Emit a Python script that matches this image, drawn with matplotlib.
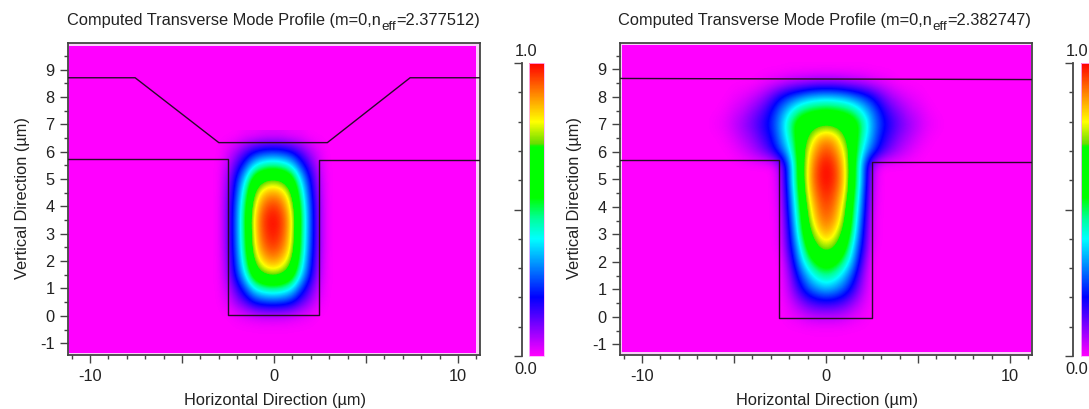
import matplotlib
matplotlib.use('Agg')
import matplotlib.pyplot as plt
from matplotlib.colors import LinearSegmentedColormap
from matplotlib.cm import ScalarMappable
import numpy as np

W, H = 1089, 409
TXT = '#222222'
FRAME = '#444444'
FS = 11.8

plt.rcParams['font.family'] = ['Liberation Sans', 'DejaVu Sans']
plt.rcParams['axes.unicode_minus'] = False

title_head = 'Computed Transverse Mode Profile (m=0,n'
title_sub = 'eff'
title_values = ['=2.377512)', '=2.382747)']
xlabel = 'Horizontal Direction (µm)'
ylabel = 'Vertical Direction (µm)'

# waveguide outlines, um
left_top_x = [-11.2, -7.55, -3.0, 2.9, 7.4, 11.2]
left_top_y = [8.7, 8.7, 6.33, 6.33, 8.7, 8.7]
left_rib_x = [-11.2, -2.5, -2.5, 2.45, 2.45, 11.2]
left_rib_y = [5.72, 5.72, 0.02, 0.02, 5.68, 5.68]
right_top_x = [-11.2, 11.2]
right_top_y = [8.67, 8.63]
right_rib_x = [-11.2, -2.55, -2.55, 2.48, 2.48, 11.2]
right_rib_y = [5.70, 5.70, -0.03, -0.03, 5.62, 5.62]

# half profile, % of peak. columns x = 0, 0.5, ... rows y from top to bottom
left_half = [
    [2, 2, 1, 1, 0, 0, 0],
    [22, 21, 18, 12, 6, 2, 0],
    [46, 44, 38, 24, 13, 4, 0],
    [71, 68, 59, 38, 20, 6, 0],
    [87, 84, 72, 46, 24, 7, 0],
    [96, 92, 79, 51, 27, 8, 0],
    [100, 96, 83, 53, 28, 8, 0],
    [99, 95, 82, 52, 28, 8, 0],
    [96, 92, 80, 51, 27, 8, 0],
    [89, 85, 74, 47, 25, 7, 0],
    [76, 73, 63, 40, 22, 6, 0],
    [49, 47, 41, 26, 14, 4, 0],
    [26, 25, 22, 14, 8, 2, 0],
    [4, 4, 3, 2, 1, 0, 0],
    [0, 0, 0, 0, 0, 0, 0],
]
right_half = [
    [0, 0, 0, 0, 0, 0, 0, 0, 0, 0, 0, 0, 0, 0, 0],
    [8, 8, 7, 6, 5, 3, 2, 1, 0, 0, 0, 0, 0, 0, 0],
    [35, 34, 32, 28, 24, 19, 12, 7, 4, 2, 1, 0, 0, 0, 0],
    [55, 54, 52, 47, 38, 29, 20, 13, 9, 5, 3, 1, 0, 0, 0],
    [70, 68, 64, 60, 48, 33, 23, 17, 12, 8, 5, 2, 1, 0, 0],
    [88, 84, 72, 60, 44, 31, 20, 14, 9, 6, 3, 1, 0, 0, 0],
    [95, 90, 79, 60, 38, 26, 16, 10, 6, 3, 1, 0, 0, 0, 0],
    [100, 95, 82, 58, 29, 7, 0, 0, 0, 0, 0, 0, 0, 0, 0],
    [100, 96, 83, 57, 30, 5, 0, 0, 0, 0, 0, 0, 0, 0, 0],
    [98, 93, 81, 54, 27, 4, 0, 0, 0, 0, 0, 0, 0, 0, 0],
    [95, 90, 76, 50, 25, 3, 0, 0, 0, 0, 0, 0, 0, 0, 0],
    [92, 87, 72, 47, 22, 2, 0, 0, 0, 0, 0, 0, 0, 0, 0],
    [87, 80, 66, 43, 19, 2, 0, 0, 0, 0, 0, 0, 0, 0, 0],
    [76, 71, 58, 36, 17, 1, 0, 0, 0, 0, 0, 0, 0, 0, 0],
    [62, 58, 47, 31, 12, 0, 0, 0, 0, 0, 0, 0, 0, 0, 0],
    [48, 44, 35, 23, 8, 0, 0, 0, 0, 0, 0, 0, 0, 0, 0],
    [35, 32, 26, 16, 6, 0, 0, 0, 0, 0, 0, 0, 0, 0, 0],
    [17, 16, 13, 8, 3, 0, 0, 0, 0, 0, 0, 0, 0, 0, 0],
    [5, 5, 4, 2, 1, 0, 0, 0, 0, 0, 0, 0, 0, 0, 0],
    [0, 0, 0, 0, 0, 0, 0, 0, 0, 0, 0, 0, 0, 0, 0],
]

# colour stops
cm_pos = [0.0, 0.2, 0.4, 0.47, 0.54, 0.715, 0.725, 0.8, 0.9, 1.0]
cm_col = ['#ff00ff', '#0000ff', '#00ffff', '#00ff99', '#00ff00', '#00ff00',
          '#66dd00', '#ffff00', '#ff8000', '#ff0000']
mode_cmap = LinearSegmentedColormap.from_list('mode', list(zip(cm_pos, cm_col)), N=512)


def px_axes(fig, x0, y0, x1, y1):
    # pixel box with y measured from the top of the picture
    return fig.add_axes([x0 / W, 1 - y1 / H, (x1 - x0) / W, (y1 - y0) / H])


def mirrored(half):
    half = np.array(half, dtype=float) / 100.0
    return np.hstack([half[:, :0:-1], half])


def mode_panel(fig, box, xlim, ylim, domain, half, half_x, y_top, y_bot, x0, outlines):
    ax = px_axes(fig, *box)
    ax.set_facecolor('#f8d0f8')
    ax.imshow([[0.0]], extent=domain, cmap=mode_cmap, vmin=0, vmax=1, aspect='auto', zorder=1)
    ax.imshow(mirrored(half), extent=[x0 - half_x, x0 + half_x, y_bot, y_top], cmap=mode_cmap,
              vmin=0, vmax=1, aspect='auto', interpolation='bicubic',
              interpolation_stage='data', zorder=2)
    for lx, ly in outlines:
        ax.plot(lx, ly, color='#2a0a2a', lw=1.0, zorder=3)
    ax.set_xlim(xlim)
    ax.set_ylim(ylim)
    ax.set_xticks([-10, -5, 0, 5, 10])
    ax.set_xticklabels(['-10', '', '0', '', '10'])
    ax.set_xticks(np.arange(-11, 12), minor=True)
    ax.set_yticks(np.arange(-1, 10))
    ax.set_yticks(np.arange(-1, 10, 0.5), minor=True)
    ax.tick_params(which='major', length=5.8, width=1.0, color=FRAME, labelcolor=TXT,
                   labelsize=FS, pad=4.0)
    ax.tick_params(which='minor', length=3, width=1.0, color=FRAME)
    for s in ax.spines.values():
        s.set_color(FRAME)
        s.set_linewidth(1.3)
    return ax


def scale_bar(fig, axis_x, bar_x0, bar_x1, y0, y1):
    sm = ScalarMappable(cmap=mode_cmap)
    sm.set_clim(0, 1)
    cax = px_axes(fig, bar_x0, y0, bar_x1, y1)
    cb = fig.colorbar(sm, cax=cax)
    cb.set_ticks([])
    cb.outline.set_edgecolor('#ffb0ff')
    cb.outline.set_linewidth(0.6)
    tick_ax = px_axes(fig, axis_x, y0, axis_x + 1, y1)
    tick_ax.patch.set_visible(False)
    tick_ax.set_xticks([])
    tick_ax.set_ylim(0, 1)
    tick_ax.set_yticks([0, 0.5, 1])
    tick_ax.set_yticklabels([])
    tick_ax.set_yticks(np.arange(0, 1.01, 0.1), minor=True)
    tick_ax.tick_params(which='major', length=5.8, width=1.0, color=FRAME)
    tick_ax.tick_params(which='minor', length=3, width=1.0, color=FRAME)
    for name in ['top', 'bottom', 'right']:
        tick_ax.spines[name].set_visible(False)
    tick_ax.spines['left'].set_color(FRAME)
    tick_ax.spines['left'].set_linewidth(1.3)


fig = plt.figure(figsize=(W / 100, H / 100), dpi=100, facecolor='white')

mode_panel(fig, (68, 43, 480, 355), (-11.2, 11.2), (-1.43, 9.97), [-11.14, 10.98, -1.35, 9.86],
           left_half, 3.25, 6.75, -0.75, -0.05,
           [(left_top_x, left_top_y), (left_rib_x, left_rib_y)])
mode_panel(fig, (620, 43, 1032, 355), (-11.2, 11.2), (-1.39, 9.96), [-11.1, 11.1, -1.28, 9.88],
           right_half, 7.25, 9.25, -0.75, 0.0,
           [(right_top_x, right_top_y), (right_rib_x, right_rib_y)])

scale_bar(fig, 522, 529, 544, 63, 356)
scale_bar(fig, 1073, 1081, 1096, 63, 356)


def put(x, y, s, size=FS, **kw):
    return fig.text(x / W, 1 - y / H, s, color=TXT, fontsize=size, **kw)


renderer = fig.canvas.get_renderer()
for x, value in zip([67, 618], title_values):
    # title in three pieces so the subscript keeps its own size and drop
    t = put(x, 25.5, title_head, ha='left', va='baseline')
    x += t.get_window_extent(renderer).width + 0.5
    t = put(x, 29.5, title_sub, size=9.6, ha='left', va='baseline')
    x += t.get_window_extent(renderer).width + 0.5
    put(x, 25.5, value, ha='left', va='baseline')
for x in [274.5, 826.5]:
    put(x, 400, xlabel, ha='center', va='center')
for x in [22, 574]:
    put(x, 198.5, ylabel, ha='center', va='center', rotation=90)
for x in [526, 1077]:
    put(x, 52, '1.0', ha='center', va='center')
    put(x, 369, '0.0', ha='center', va='center')

fig.savefig('out.png', dpi=100)
